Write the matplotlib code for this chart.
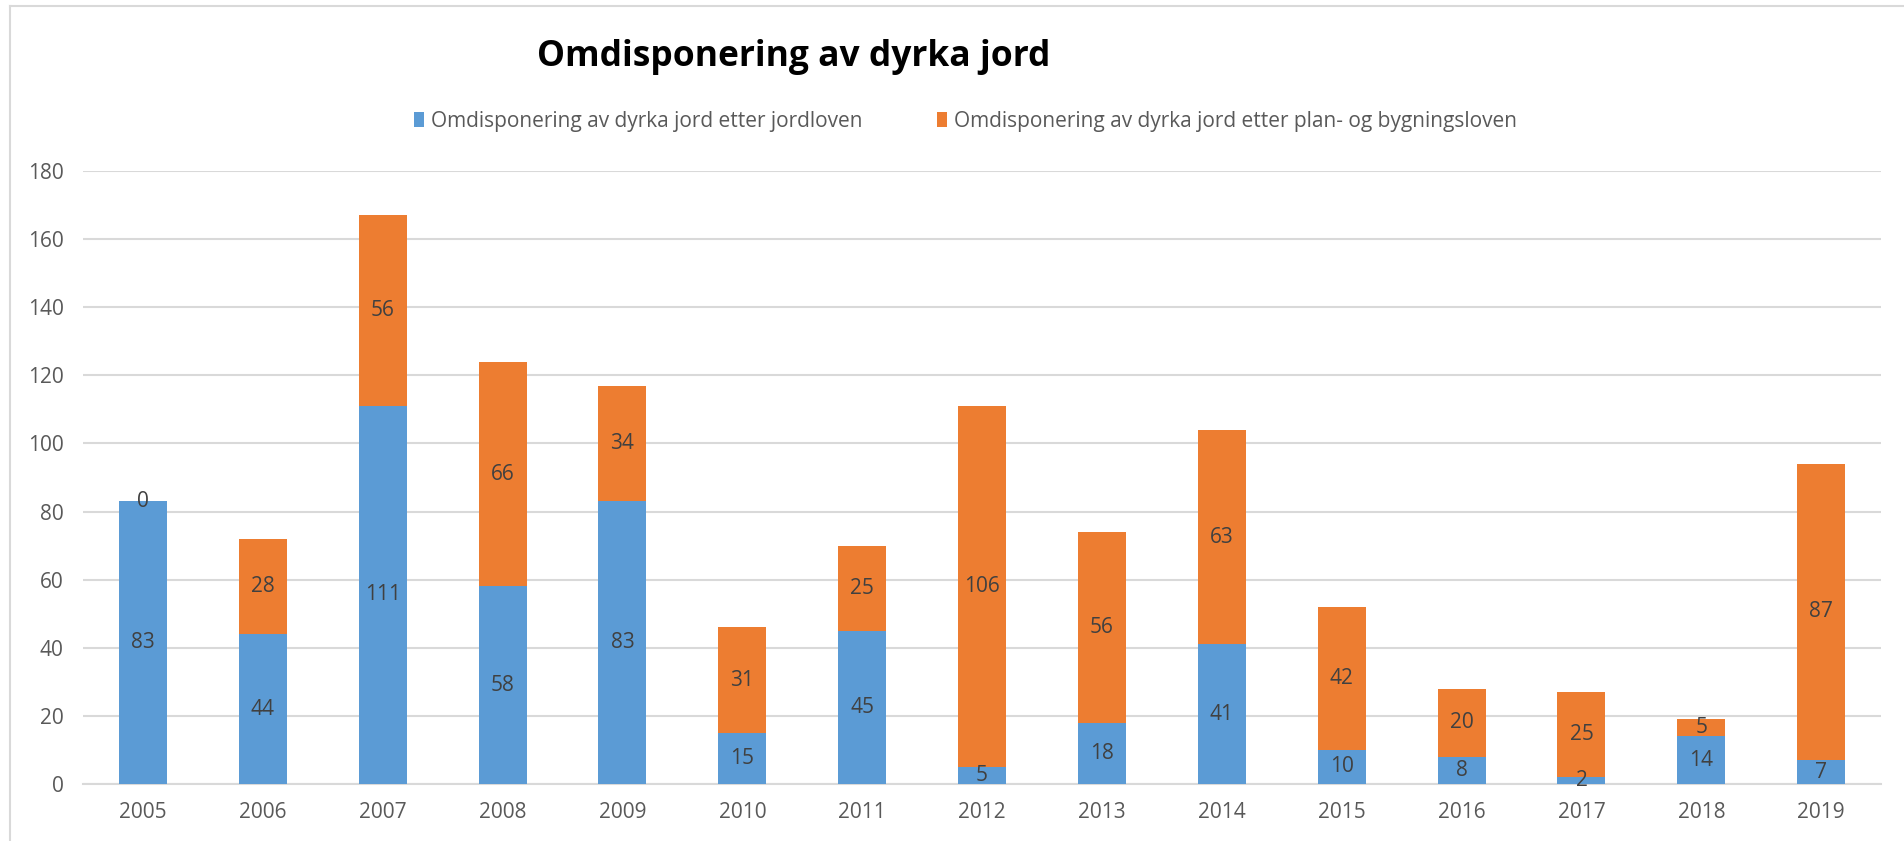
import numpy as np
import matplotlib.pyplot as plt
from matplotlib.lines import Line2D

# Data
years = ["2005", "2006", "2007", "2008", "2009", "2010", "2011", "2012",
         "2013", "2014", "2015", "2016", "2017", "2018", "2019"]
jordloven = [83, 44, 111, 58, 83, 15, 45, 5, 18, 41, 10, 8, 2, 14, 7]
pbl = [0, 28, 56, 66, 34, 31, 25, 106, 56, 63, 42, 20, 25, 5, 87]

label_jord = "Omdisponering av dyrka jord etter jordloven"
label_pbl = "Omdisponering av dyrka jord etter plan- og bygningsloven"

blue = "#5B9BD5"
orange = "#ED7D31"
plt.rcParams['font.family'] = ['Open Sans', 'DejaVu Sans']

fig = plt.figure(figsize=(19.04, 8.41), dpi=100)
ax = fig.add_axes([0.0436, 0.0678, 0.9444, 0.7289])

x = np.arange(len(years))
b1 = ax.bar(x, jordloven, width=0.4, color=blue, label=label_jord, zorder=3)
b2 = ax.bar(x, pbl, width=0.4, bottom=jordloven, color=orange, label=label_pbl, zorder=3)

# Data labels in the middle of each segment
for i in range(len(years)):
    ax.text(x[i], jordloven[i] / 2, str(jordloven[i]), ha='center', va='center',
            fontsize=15, color='#404040', zorder=4)
    ax.text(x[i], jordloven[i] + pbl[i] / 2, str(pbl[i]), ha='center', va='center',
            fontsize=15, color='#404040', zorder=4)

ax.set_xlim(-0.5, len(years) - 0.5)
ax.set_ylim(0, 180)
ax.set_yticks(np.arange(0, 181, 20))
ax.set_xticks(x)
ax.set_xticklabels(years)
ax.grid(axis='y', color='#D9D9D9', linewidth=1.5, zorder=0)
for s in ['top', 'right', 'left']:
    ax.spines[s].set_visible(False)
ax.spines['bottom'].set_color('#D9D9D9')
ax.spines['bottom'].set_linewidth(1.5)
ax.tick_params(axis='both', length=0, labelsize=15, labelcolor='#595959')
ax.tick_params(axis='y', pad=14)
ax.tick_params(axis='x', pad=13)

fig.text(0.4166, 0.932, "Omdisponering av dyrka jord", ha='center', va='center',
         fontsize=25.5, fontweight='bold', color='black')

fig.legend(handles=[b1, b2], loc='center', bbox_to_anchor=(0.507, 0.856), ncol=2,
           frameon=False, fontsize=15, labelcolor='#595959', handlelength=0.5,
           handleheight=0.75, handletextpad=0.3, columnspacing=3.6)

# chart border
fig.add_artist(Line2D([0.005, 0.005], [0, 0.993], color='#D9D9D9', lw=1.5))
fig.add_artist(Line2D([0.005, 1], [0.993, 0.993], color='#D9D9D9', lw=1.5))

fig.savefig("out.png", dpi=100)
